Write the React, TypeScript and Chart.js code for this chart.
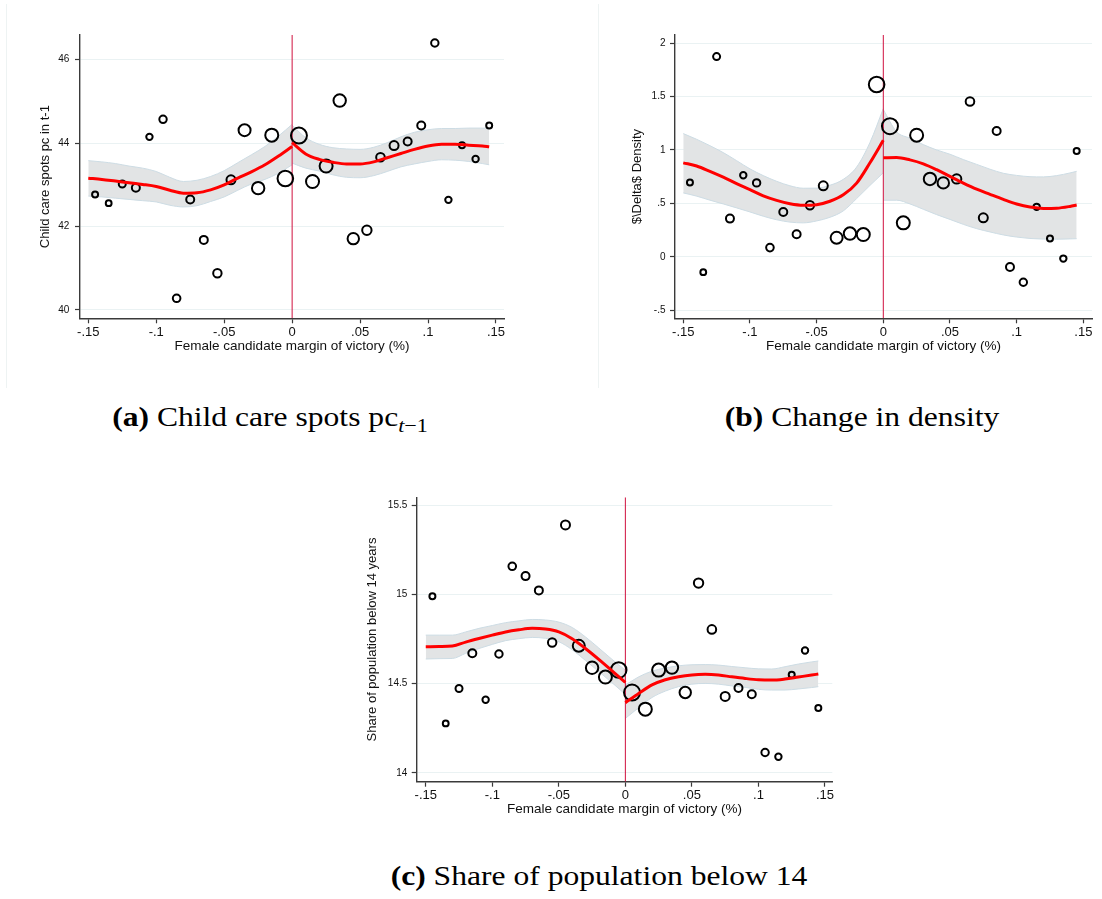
import React, { useEffect, useRef } from "react";
import { Chart, registerables } from "chart.js";

Chart.register(...registerables);
Chart.defaults.font.family = "'Liberation Sans', Arial, sans-serif";

// ---------- data ----------
const binX = [
  -0.145, -0.135, -0.125, -0.115, -0.105, -0.095, -0.085, -0.075, -0.065, -0.055,
  -0.045, -0.035, -0.025, -0.015, -0.005, 0.005, 0.015, 0.025, 0.035, 0.045,
  0.055, 0.065, 0.075, 0.085, 0.095, 0.105, 0.115, 0.125, 0.135, 0.145,
];
// approximate observations per bin (marker area)
const binObs = [
  36, 34, 49, 64, 41, 55, 58, 64, 64, 71, 81, 144, 154, 169, 243,
  256, 169, 169, 154, 130, 88, 74, 81, 64, 64, 55, 41, 36, 41, 36,
];

const childCareSpots = [
  42.77, 42.56, 43.02, 42.93, 44.15, 44.57, 40.28, 42.65, 41.68, 40.88,
  43.12, 44.31, 42.92, 44.19, 43.15, 44.18, 43.08, 43.45, 45.02, 41.71,
  41.91, 43.66, 43.94, 44.04, 44.42, 46.4, 42.64, 43.95, 43.62, 44.42,
];
const deltaDensity = [
  0.695, -0.143, 1.873, 0.358, 0.764, 0.692, 0.087, 0.42, 0.212, 0.483,
  0.664, 0.178, 0.218, 0.209, 1.612, 1.222, 0.318, 1.138, 0.729, 0.692,
  0.729, 1.453, 0.365, 1.178, -0.094, -0.237, 0.468, 0.171, -0.016, 0.991,
];
const shareBelow14 = [
  14.99, 14.277, 14.473, 14.67, 14.41, 14.666, 15.158, 15.103, 15.023, 14.731,
  15.39, 14.712, 14.589, 14.537, 14.576, 14.45, 14.357, 14.576, 14.59, 14.45,
  15.064, 14.804, 14.428, 14.475, 14.44, 14.114, 14.09, 14.55, 14.686, 14.363,
];

const fitLeftX = [-0.15, -0.14, -0.13, -0.12, -0.11, -0.1, -0.09, -0.08, -0.07, -0.06, -0.05, -0.04, -0.03, -0.02, -0.01, 0];
const fitRightX = [0, 0.01, 0.02, 0.03, 0.04, 0.05, 0.06, 0.07, 0.08, 0.09, 0.1, 0.11, 0.12, 0.13, 0.14, 0.145];

// (a) child care spots
const aFitL = [43.16, 43.13, 43.09, 43.05, 43.01, 42.96, 42.87, 42.8, 42.81, 42.88, 43.0, 43.16, 43.31, 43.48, 43.69, 43.92];
const aUpL = [43.58, 43.55, 43.51, 43.45, 43.4, 43.32, 43.18, 43.08, 43.11, 43.2, 43.34, 43.53, 43.72, 43.92, 44.17, 44.45];
const aLoL = [42.73, 42.71, 42.68, 42.65, 42.62, 42.59, 42.51, 42.47, 42.5, 42.6, 42.71, 42.87, 43.02, 43.13, 43.28, 43.48];
const aFitR = [44.01, 43.74, 43.61, 43.54, 43.5, 43.5, 43.55, 43.65, 43.75, 43.85, 43.93, 43.97, 43.97, 43.95, 43.93, 43.91];
const aUpR = [44.43, 44.13, 43.97, 43.89, 43.86, 43.85, 43.9, 44.01, 44.15, 44.26, 44.32, 44.35, 44.35, 44.36, 44.36, 44.35];
const aLoR = [43.52, 43.4, 43.33, 43.24, 43.18, 43.17, 43.22, 43.32, 43.43, 43.5, 43.56, 43.6, 43.59, 43.56, 43.51, 43.48];

// (b) change in density
const bFitL = [0.879, 0.85, 0.8, 0.745, 0.685, 0.628, 0.57, 0.528, 0.497, 0.483, 0.488, 0.52, 0.58, 0.69, 0.88, 1.09];
const bUpL = [1.153, 1.1, 1.04, 0.975, 0.9, 0.823, 0.76, 0.707, 0.665, 0.642, 0.643, 0.67, 0.725, 0.84, 1.07, 1.387];
const bLoL = [0.598, 0.568, 0.53, 0.495, 0.458, 0.42, 0.38, 0.347, 0.325, 0.318, 0.336, 0.37, 0.43, 0.545, 0.668, 0.786];
const bFitR = [0.926, 0.93, 0.907, 0.87, 0.815, 0.752, 0.69, 0.633, 0.585, 0.538, 0.495, 0.466, 0.453, 0.455, 0.472, 0.485];
const bUpR = [1.378, 1.17, 1.11, 1.05, 1.0, 0.96, 0.91, 0.865, 0.82, 0.782, 0.762, 0.75, 0.748, 0.76, 0.785, 0.8];
const bLoR = [0.53, 0.53, 0.495, 0.445, 0.395, 0.35, 0.304, 0.264, 0.233, 0.205, 0.185, 0.172, 0.166, 0.165, 0.168, 0.17];

// (c) share below 14
const cFitL = [14.707, 14.708, 14.711, 14.733, 14.753, 14.772, 14.79, 14.802, 14.81, 14.806, 14.79, 14.752, 14.697, 14.636, 14.572, 14.507];
const cUpL = [14.772, 14.772, 14.772, 14.79, 14.81, 14.826, 14.842, 14.852, 14.86, 14.857, 14.845, 14.815, 14.762, 14.7, 14.636, 14.575];
const cLoL = [14.638, 14.64, 14.641, 14.67, 14.697, 14.72, 14.741, 14.752, 14.759, 14.754, 14.735, 14.69, 14.63, 14.568, 14.505, 14.44];
const cFitR = [14.393, 14.445, 14.493, 14.522, 14.539, 14.549, 14.552, 14.548, 14.538, 14.529, 14.522, 14.52, 14.526, 14.537, 14.548, 14.554];
const cUpR = [14.492, 14.538, 14.57, 14.588, 14.6, 14.606, 14.607, 14.604, 14.596, 14.589, 14.583, 14.582, 14.595, 14.61, 14.622, 14.627];
const cLoR = [14.305, 14.365, 14.422, 14.458, 14.483, 14.497, 14.501, 14.497, 14.487, 14.479, 14.468, 14.464, 14.464, 14.47, 14.478, 14.483];

const xTickValues = [-0.15, -0.1, -0.05, 0, 0.05, 0.1, 0.15];
const xTickLabels = ["-.15", "-.1", "-.05", "0", ".05", ".1", ".15"];
const xTitle = "Female candidate margin of victory (%)";

const aYTicks = [40, 42, 44, 46];
const aYLabels = ["40", "42", "44", "46"];
const bYTicks = [-0.5, 0, 0.5, 1, 1.5, 2];
const bYLabels = ["-.5", "0", ".5", "1", "1.5", "2"];
const cYTicks = [14, 14.5, 15, 15.5];
const cYLabels = ["14", "14.5", "15", "15.5"];

const captionLabels = ["(a)", "(b)", "(c)"];
const captionTexts = ["Child care spots pc", "Change in density", "Share of population below 14"];
const captionSub = ["t", "\u22121"];

// ---------- styling ----------
const BAND_FILL = "rgba(226,228,229,1)";
const BAND_EDGE = "rgba(205,220,228,1)";
const FIT_RED = "#ff0000";
const VLINE = "#d0103f";
const AXIS = "#3a3a3a";
const GRID = "#eaf2f3";
const TEXT = "#111";

type Spec = {
  left: number; top: number; width: number; height: number;
  pad: { left: number; top: number; right: number; bottom: number };
  yAxisWidth: number; xAxisHeight: number;
  xMin: number; xMax: number; yMin: number; yMax: number;
  yTicks: number[]; yLabels: string[]; yTitle: string;
  yTitlePad: number; yTickPad: number; xTickPad: number; xTitlePad: number;
  values: number[];
  fitL: number[]; upL: number[]; loL: number[];
  fitR: number[]; upR: number[]; loR: number[];
};

const xy = (xs: number[], ys: number[]) => xs.map((x, i) => ({ x, y: ys[i] }));

function buildConfig(s: Spec): any {
  const band = (xs: number[], ys: number[], fill: boolean) => ({
    type: "line",
    data: xy(xs, ys),
    borderColor: BAND_EDGE,
    borderWidth: 1,
    pointRadius: 0,
    fill: fill ? "-1" : false,
    backgroundColor: BAND_FILL,
    cubicInterpolationMode: "monotone",
    order: 10,
  });
  const fit = (xs: number[], ys: number[]) => ({
    type: "line",
    data: xy(xs, ys),
    borderColor: FIT_RED,
    borderWidth: 3,
    pointRadius: 0,
    fill: false,
    cubicInterpolationMode: "monotone",
    order: 1,
  });
  return {
    type: "scatter",
    data: {
      datasets: [
        band(fitLeftX, s.loL, false),
        band(fitLeftX, s.upL, true),
        band(fitRightX, s.loR, false),
        band(fitRightX, s.upR, true),
        {
          type: "line",
          data: [{ x: 0, y: s.yMin }, { x: 0, y: s.yMax }],
          borderColor: VLINE,
          borderWidth: 1,
          pointRadius: 0,
          fill: false,
          order: 8,
        },
        {
          type: "scatter",
          data: xy(binX, s.values),
          pointRadius: binObs.map((n) => Math.sqrt(n) / 2),
          pointBorderColor: "#000",
          pointBackgroundColor: "rgba(0,0,0,0)",
          pointBorderWidth: 2,
          showLine: false,
          order: 5,
        },
        fit(fitLeftX, s.fitL),
        fit(fitRightX, s.fitR),
      ],
    },
    options: {
      responsive: false,
      maintainAspectRatio: false,
      animation: false,
      events: [],
      layout: { padding: s.pad },
      plugins: { legend: { display: false }, tooltip: { enabled: false } },
      scales: {
        x: {
          type: "linear",
          position: "bottom",
          min: s.xMin,
          max: s.xMax,
          afterBuildTicks: (sc: any) => {
            sc.ticks = xTickValues.map((v) => ({ value: v }));
          },
          afterFit: (sc: any) => {
            sc.height = s.xAxisHeight;
            sc.paddingLeft = 0;
            sc.paddingRight = 0;
          },
          ticks: {
            callback: (_v: any, i: number) => xTickLabels[i],
            font: { size: 13 },
            color: TEXT,
            padding: s.xTickPad,
            maxRotation: 0,
            minRotation: 0,
            autoSkip: false,
          },
          grid: {
            display: true,
            drawOnChartArea: false,
            drawTicks: true,
            tickLength: 5,
            tickColor: AXIS,
            tickWidth: 1.2,
          },
          border: { display: true, color: AXIS, width: 1.4 },
          title: {
            display: true,
            text: xTitle,
            font: { size: 13.5 },
            color: TEXT,
            padding: { top: 0, bottom: s.xTitlePad },
          },
        },
        y: {
          type: "linear",
          position: "left",
          min: s.yMin,
          max: s.yMax,
          afterBuildTicks: (sc: any) => {
            sc.ticks = s.yTicks.map((v) => ({ value: v }));
          },
          afterFit: (sc: any) => {
            sc.width = s.yAxisWidth;
            sc.paddingTop = 0;
            sc.paddingBottom = 0;
          },
          ticks: {
            callback: (_v: any, i: number) => s.yLabels[i],
            font: { size: 10 },
            color: TEXT,
            padding: s.yTickPad,
            autoSkip: false,
          },
          grid: {
            display: true,
            drawOnChartArea: true,
            color: GRID,
            lineWidth: 1,
            drawTicks: true,
            tickLength: 5,
            tickColor: AXIS,
            tickWidth: 1.2,
          },
          border: { display: true, color: AXIS, width: 1.4 },
          title: {
            display: true,
            text: s.yTitle,
            font: { size: 13 },
            color: TEXT,
            padding: { top: s.yTitlePad, bottom: 0 },
          },
        },
      },
    },
  };
}

function Panel({ spec }: { spec: Spec }) {
  const ref = useRef<HTMLCanvasElement | null>(null);
  useEffect(() => {
    if (!ref.current) return;
    const chart = new Chart(ref.current, buildConfig(spec));
    return () => chart.destroy();
  }, [spec]);
  return (
    <canvas
      ref={ref}
      width={spec.width}
      height={spec.height}
      style={{ position: "absolute", left: spec.left, top: spec.top, width: spec.width, height: spec.height }}
    />
  );
}

const specA: Spec = {
  left: 0, top: 0, width: 560, height: 380,
  pad: { left: 0, top: 35, right: 56, bottom: 21.7 },
  yAxisWidth: 80, xAxisHeight: 40,
  xMin: -0.1561, xMax: 0.1559, yMin: 39.801, yMax: 46.591,
  yTicks: aYTicks, yLabels: aYLabels, yTitle: "Child care spots pc in t-1",
  yTitlePad: 37.2, yTickPad: 5.7, xTickPad: 1, xTitlePad: 3.5,
  values: childCareSpots,
  fitL: aFitL, upL: aUpL, loL: aLoL, fitR: aFitR, upR: aUpR, loR: aLoR,
};

const specB: Spec = {
  left: 560, top: 0, width: 542, height: 380,
  pad: { left: 0, top: 35, right: 6, bottom: 21.7 },
  yAxisWidth: 115, xAxisHeight: 40,
  xMin: -0.1562, xMax: 0.1565, yMin: -0.5745, yMax: 2.075,
  yTicks: bYTicks, yLabels: bYLabels, yTitle: "$\\Delta$ Density",
  yTitlePad: 69.7, yTickPad: 4.5, xTickPad: 1, xTitlePad: 3.5,
  values: deltaDensity,
  fitL: bFitL, upL: bUpL, loL: bLoL, fitR: bFitR, upR: bUpR, loR: bLoR,
};

const specC: Spec = {
  left: 330, top: 470, width: 520, height: 380,
  pad: { left: 0, top: 27.3, right: 17.7, bottom: 28.3 },
  yAxisWidth: 86.7, xAxisHeight: 40,
  xMin: -0.1568, xMax: 0.1555, yMin: 13.95, yMax: 15.545,
  yTicks: cYTicks, yLabels: cYLabels, yTitle: "Share of population below 14 years",
  yTitlePad: 34.9, yTickPad: 4.4, xTickPad: 0.5, xTitlePad: 4.3,
  values: shareBelow14,
  fitL: cFitL, upL: cUpL, loL: cLoL, fitR: cFitR, upR: cUpR, loR: cLoR,
};

const CAP_SIZE = 27;
function Caption({ cx, baseline, idx, sub }: { cx: number; baseline: number; idx: number; sub?: boolean }) {
  return (
    <div
      style={{
        position: "absolute",
        left: cx - 300,
        top: baseline - 0.8375 * CAP_SIZE,
        width: 600,
        textAlign: "center",
        fontFamily: "'Liberation Serif', 'Times New Roman', serif",
        fontSize: CAP_SIZE,
        lineHeight: `${CAP_SIZE}px`,
        color: "#000",
        whiteSpace: "nowrap",
        transform: "scaleX(1.17)",
        transformOrigin: "50% 50%",
      }}
    >
      <b>{captionLabels[idx]}</b> {captionTexts[idx]}
      {sub ? (
        <span style={{ fontSize: "0.7em", position: "relative", top: "0.32em", lineHeight: 0 }}>
          <i>{captionSub[0]}</i>
          {captionSub[1]}
        </span>
      ) : null}
    </div>
  );
}

export default function App() {
  return (
    <div
      style={{
        position: "absolute",
        left: 0,
        top: 0,
        width: 1102,
        height: 899,
        background: "#fff",
        overflow: "hidden",
      }}
    >
      <div style={{ position: "absolute", left: 6, top: 4, width: 1, height: 384, background: "#eef3f3" }} />
      <div style={{ position: "absolute", left: 598, top: 4, width: 1, height: 384, background: "#eef3f3" }} />
      <Panel spec={specA} />
      <Panel spec={specB} />
      <Panel spec={specC} />
      <Caption cx={269.5} baseline={426.5} idx={0} sub />
      <Caption cx={861.5} baseline={426.5} idx={1} />
      <Caption cx={599} baseline={886} idx={2} />
    </div>
  );
}
